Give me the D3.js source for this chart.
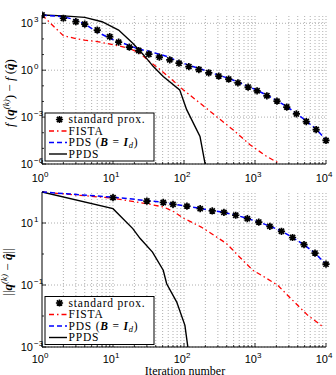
<!DOCTYPE html>
<html><head><meta charset="utf-8">
<script src="https://cdn.jsdelivr.net/npm/d3@7"></script>
<style>body{margin:0;background:#fff}svg{display:block}</style>
</head><body>
<svg id="c" width="336" height="375"></svg>
<script>
// ---------- data ----------
// top panel: f(q^(k)) - f(q^)
const topProxIter = [1,2,3,4,6,9,12,17,23,32,45,63,85,117,162,223,309,426,575,800,1070,1470,2040,2800,3830,5270,7260,10000];
const topProxVal  = [3400,2100,1260,890,370,140,62,30,18,10.5,6.8,4.6,2.8,1.7,1.1,0.68,0.42,0.27,0.155,0.083,0.048,0.023,0.0105,0.0044,0.0016,5.2e-4,1.6e-4,3.2e-5];
const topPdsIter  = [1,2,3,4,6,9,14,22,33,56,85,117,162,223,309,426,575,800,1070,1470,2040,2800,3830,5270,7260,10000];
const topPdsVal   = [3400,2630,1620,890,280,110,52,24,15.5,7.9,3.5,2.1,1.32,0.79,0.48,0.30,0.174,0.093,0.052,0.025,0.0112,0.0047,0.0017,5.6e-4,1.7e-4,3.5e-5];
const topFistaIter = [1,2,3,4,6,8,12,17,24,33,46,64,98,168,286,490,850,1450,2130,2600];
const topFistaVal  = [3400,160,105,83,68,52,36,25,12,3.5,1.1,0.31,0.055,0.0078,0.0011,1.55e-4,1.7e-5,3.1e-6,1.17e-6,5e-7];
const topPpdsIter = [1,2,4,7,12,19,27,37,51,87,109,168,197,215];
const topPpdsVal  = [3400,3000,2400,1260,370,52,9.5,1.7,0.39,0.055,0.003,5.8e-5,1.2e-6,2e-7];

// bottom panel: ||q^(k) - q^||
const botProxIter = [10,30,51,70,110,169,250,365,535,780,1130,1620,2360,3380,4900,7000,10000];
const botProxVal  = [66,51,46,40,35,29,24.5,22,17.8,13.8,10.7,7.8,5.4,3.4,2.0,1.07,0.47];
const botPdsIter  = [1,10,30,51,70,110,169,250,365,535,780,1130,1620,2360,3380,4900,7000,10000];
const botPdsVal   = [100,68,53,47,41,35,29.5,25,22,18,14,10.8,7.9,5.5,3.4,2.0,1.07,0.47];
const botFistaIter = [1,10,30,51,70,100,175,242,395,610,930,1360,2090,3220,5540,8530,9000];
const botFistaVal  = [100,63,42,33,24,14,7.4,4.6,2.2,0.79,0.30,0.18,0.098,0.036,0.0105,0.005,0.0047];
const botPpdsIter = [1,10,19,24,36,51,57,79,103,114,120];
const botPpdsVal  = [100,29,6.6,3.2,1.15,0.3,0.11,0.028,0.005,8.9e-4,4e-4];

const xTicks = [1,10,100,1000,10000];
const xTickExp = ["0","1","2","3","4"];
const topYTicks = [1e3,1,1e-3,1e-6];
const topYTickExp = ["3","0","\u22123","\u22126"];
const botYTicks = [10,0.1,0.001];
const botYTickExp = ["1","\u22121","\u22123"];
const legendLabels = ["standard prox.","FISTA","PDS","PPDS"];

// ---------- drawing ----------
const svg = d3.select("#c");
const sans = "Liberation Sans, Arial, sans-serif";
const serif = "Liberation Serif, Times New Roman, serif";

const x = d3.scaleLog().domain([1,10000]).range([42,326]);

function panel(opts){
  const {yDomain, yRange, yTicks, yTickExp, series, id, xLabelY, legendTop} = opts;
  const y = d3.scaleLog().domain(yDomain).range(yRange);
  const g = svg.append("g");
  const x0 = x.range()[0], x1 = x.range()[1];
  const yB = yRange[0], yT = yRange[1];

  g.append("clipPath").attr("id", id).append("rect")
    .attr("x", x0).attr("y", yT-5).attr("width", x1-x0+6).attr("height", yB-yT+5);

  // x grid: major + minor
  const xg = [];
  for (let d=1; d<10000; d*=10) for (let m=1; m<10; m++) xg.push(d*m);
  xg.push(10000);
  g.append("g").selectAll("line").data(xg.filter(v=>v>1)).join("line")
    .attr("x1", d=>x(d)).attr("x2", d=>x(d)).attr("y1", yB).attr("y2", yT)
    .attr("stroke", "#9a9a9a").attr("stroke-width", 0.8).attr("stroke-dasharray", "1,2");
  // y grid: major
  g.append("g").selectAll("line").data(yTicks).join("line")
    .attr("x1", x0).attr("x2", x1).attr("y1", d=>y(d)).attr("y2", d=>y(d))
    .attr("stroke", "#9a9a9a").attr("stroke-width", 0.8).attr("stroke-dasharray", "1,2");

  // curves
  const line = d3.line().x(d=>x(d[0])).y(d=>y(d[1]));
  const cg = g.append("g").attr("clip-path", `url(#${id})`);
  const s = series;
  cg.append("path").datum(d3.zip(s.fistaI, s.fistaV)).attr("d", line)
    .attr("fill","none").attr("stroke","#ff0000").attr("stroke-width",1.3).attr("stroke-dasharray","5,3,1.5,3");
  cg.append("path").datum(d3.zip(s.ppdsI, s.ppdsV)).attr("d", line)
    .attr("fill","none").attr("stroke","#000").attr("stroke-width",1.4);
  cg.append("path").datum(d3.zip(s.pdsI, s.pdsV)).attr("d", line)
    .attr("fill","none").attr("stroke","#0000ff").attr("stroke-width",1.5).attr("stroke-dasharray","5,3");
  const mk = cg.append("g").selectAll("g").data(d3.zip(s.proxI, s.proxV)).join("g")
    .attr("transform", d=>`translate(${x(d[0])},${y(d[1])})`);
  drawStar(mk);

  // axes lines
  g.append("line").attr("x1",x0).attr("x2",x1).attr("y1",yB).attr("y2",yB).attr("stroke","#000").attr("stroke-width",1);
  g.append("line").attr("x1",x0).attr("x2",x0).attr("y1",yB).attr("y2",yT).attr("stroke","#000").attr("stroke-width",1);
  // x ticks
  g.append("g").selectAll("line").data(xg).join("line")
    .attr("x1", d=>x(d)).attr("x2", d=>x(d)).attr("y1", yB)
    .attr("y2", d=> xTicks.includes(d) ? yB-4 : yB-2)
    .attr("stroke","#000").attr("stroke-width",0.8);
  // y ticks (each decade minor)
  const lo = Math.round(Math.log10(yDomain[0])), hi = Math.floor(Math.log10(yDomain[1]));
  const yd = d3.range(lo, hi+1).map(e=>Math.pow(10,e));
  g.append("g").selectAll("line").data(yd).join("line")
    .attr("x1", x0).attr("x2", d=> yTicks.some(t=>Math.abs(Math.log10(t)-Math.log10(d))<1e-6) ? x0+4 : x0+2)
    .attr("y1", d=>y(d)).attr("y2", d=>y(d)).attr("stroke","#000").attr("stroke-width",0.8);

  // x tick labels
  xTicks.forEach((t,i)=>{
    const tx = g.append("text").attr("x", x(t)-2).attr("y", xLabelY)
      .attr("text-anchor","middle").attr("font-family",sans).attr("font-size",11).attr("fill","#000");
    tx.append("tspan").text("10");
    tx.append("tspan").attr("dy",-5).attr("font-size",8).text(xTickExp[i]);
  });
  // y tick labels
  yTicks.forEach((t,i)=>{
    const tx = g.append("text").attr("x", 33).attr("y", y(t)+4)
      .attr("text-anchor","end").attr("font-family",sans).attr("font-size",11).attr("fill","#000");
    tx.append("tspan").text("10");
    svg.append("text").attr("x",34).attr("y", y(t)-1)
      .attr("font-family",sans).attr("font-size",8).attr("fill","#000").text(yTickExp[i]);
  });

  // legend
  const L = g.append("g").attr("transform", `translate(45,${legendTop})`);
  L.append("rect").attr("x",0).attr("y",0).attr("width",109).attr("height",48)
    .attr("fill","#fff").attr("stroke","#000").attr("stroke-width",1);
  const rows = [6.5, 18, 29.5, 41];
  drawStar(L.append("g").attr("transform",`translate(14.5,${rows[0]})`));
  L.append("line").attr("x1",4).attr("x2",22).attr("y1",rows[1]).attr("y2",rows[1])
    .attr("stroke","#ff0000").attr("stroke-width",1.3).attr("stroke-dasharray","5,3,1.5,3");
  L.append("line").attr("x1",4).attr("x2",22).attr("y1",rows[2]).attr("y2",rows[2])
    .attr("stroke","#0000ff").attr("stroke-width",1.5).attr("stroke-dasharray","5,3");
  L.append("line").attr("x1",4).attr("x2",22).attr("y1",rows[3]).attr("y2",rows[3])
    .attr("stroke","#000").attr("stroke-width",1.4);
  const tx = (r)=>L.append("text").attr("x",23.5).attr("y",rows[r]+3.5)
    .attr("font-family",serif).attr("font-size",11.5).attr("letter-spacing",0.8).attr("fill","#000");
  tx(0).text(legendLabels[0]);
  tx(1).text(legendLabels[1]);
  const t2 = tx(2);
  t2.append("tspan").text(legendLabels[2]+" (");
  t2.append("tspan").attr("font-weight","bold").attr("font-style","italic").text("B");
  t2.append("tspan").text(" = ");
  t2.append("tspan").attr("font-weight","bold").attr("font-style","italic").text("I");
  t2.append("tspan").attr("font-style","italic").attr("font-size",8.5).attr("dy",2).text("d");
  t2.append("tspan").attr("dy",-2).text(")");
  tx(3).text(legendLabels[3]);
  return y;
}

function drawStar(sel){
  const r = 3.6, d = r*0.72;
  sel.append("path")
    .attr("d", `M${-r},0L${r},0M0,${-r}L0,${r}M${-d},${-d}L${d},${d}M${-d},${d}L${d},${-d}`)
    .attr("stroke","#000").attr("stroke-width",1.7).attr("fill","none");
  sel.append("circle").attr("r",1.8).attr("fill","#000");
}

panel({
  id:"clipTop", yDomain:[1e-6, Math.pow(10,3.53)], yRange:[164,15],
  yTicks: topYTicks, yTickExp: topYTickExp, xLabelY: 182, legendTop: 113,
  series:{proxI:topProxIter, proxV:topProxVal, pdsI:topPdsIter, pdsV:topPdsVal,
          fistaI:topFistaIter, fistaV:topFistaVal, ppdsI:topPpdsIter, ppdsV:topPpdsVal}
});
panel({
  id:"clipBot", yDomain:[1e-3, 100], yRange:[347,192],
  yTicks: botYTicks, yTickExp: botYTickExp, xLabelY: 362.5, legendTop: 296.5,
  series:{proxI:botProxIter, proxV:botProxVal, pdsI:botPdsIter, pdsV:botPdsVal,
          fistaI:botFistaIter, fistaV:botFistaVal, ppdsI:botPpdsIter, ppdsV:botPpdsVal}
});

// y axis labels
function ylabel(cx, cy, norm){
  const t = svg.append("text").attr("transform",`translate(${cx},${cy}) rotate(-90)`)
    .attr("text-anchor","middle").attr("font-family",serif).attr("font-size",13).attr("fill","#000");
  const q = (s)=>t.append("tspan").attr("font-weight","bold").attr("font-style","italic").text(s);
  if (norm){
    t.append("tspan").text("||");
    q("q");
    t.append("tspan").attr("dy",-5).attr("font-size",9).attr("font-style","italic").text("(k)");
    t.append("tspan").attr("dy",5).text(" \u2212 ");
    q("q\u0302");
    t.append("tspan").text("||");
  } else {
    t.append("tspan").attr("font-style","italic").text("f");
    t.append("tspan").text(" (");
    q("q");
    t.append("tspan").attr("dy",-5).attr("font-size",9).attr("font-style","italic").text("(k)");
    t.append("tspan").attr("dy",5).text(") \u2212 ");
    t.append("tspan").attr("font-style","italic").text("f");
    t.append("tspan").text(" (");
    q("q\u0302");
    t.append("tspan").text(")");
  }
}
ylabel(14, 93, false);
ylabel(12, 272, true);

svg.append("text").attr("x",185).attr("y",374.5).attr("text-anchor","middle")
  .attr("font-family",serif).attr("font-size",12).attr("fill","#000").text("Iteration number");
</script>
</body></html>
